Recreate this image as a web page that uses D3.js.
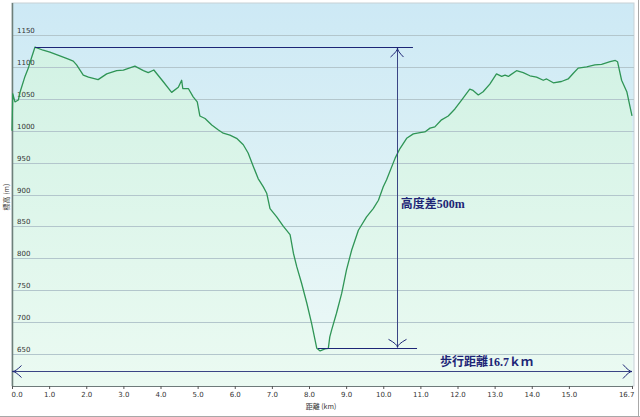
<!DOCTYPE html>
<html>
<head>
<meta charset="utf-8">
<script src="https://cdn.jsdelivr.net/npm/d3@7"></script>
<style>
  body { margin: 0; background: #fff; }
  svg { display: block; }
</style>
</head>
<body>
<div id="chart"></div>
<script>
'use strict';

// distance along the trail (km) and elevation (m)
var distances = [
  0, 0.02, 0.08, 0.17, 0.22, 0.35, 0.44, 0.53, 0.62, 0.84,
  1.02, 1.29, 1.52, 1.65, 1.74, 1.92, 2.06, 2.32, 2.55, 2.82,
  3.00, 3.31, 3.54, 3.67, 3.82, 4.07, 4.30, 4.48, 4.57, 4.60,
  4.75, 4.88, 4.99, 5.06, 5.20, 5.38, 5.56, 5.69, 5.87, 6.05,
  6.23, 6.36, 6.50, 6.63, 6.77, 6.86, 6.95, 7.13, 7.31, 7.49,
  7.51, 7.58, 7.67, 7.80, 7.94, 8.07, 8.21, 8.30, 8.43, 8.52,
  8.56, 8.61, 8.74, 8.88, 9.01, 9.15, 9.33, 9.55, 9.73, 9.87,
  10.00, 10.09, 10.32, 10.45, 10.63, 10.81, 10.99, 11.12, 11.26, 11.39,
  11.57, 11.75, 11.93, 12.11, 12.33, 12.42, 12.56, 12.69, 12.87, 13.05,
  13.19, 13.28, 13.37, 13.59, 13.77, 13.95, 14.13, 14.31, 14.40, 14.58,
  14.80, 14.98, 15.12, 15.25, 15.48, 15.70, 15.88, 16.11, 16.25, 16.31,
  16.42, 16.56, 16.70
];
var elevations = [
  1000, 1058, 1045, 1048, 1061, 1085, 1098, 1115, 1131, 1126,
  1123, 1117, 1112, 1109, 1103, 1087, 1084, 1080, 1089, 1094,
  1095, 1101, 1094, 1091, 1095, 1077, 1060, 1068, 1079, 1066,
  1066, 1053, 1045, 1023, 1019, 1009, 1001, 996, 993, 988,
  978, 965, 944, 925, 912, 902, 878, 865, 850, 837,
  831, 808, 787, 761, 730, 698, 659, 655, 658, 659,
  677, 688, 714, 745, 782, 813, 844, 865, 878, 891,
  912, 923, 957, 972, 988, 995, 997, 998, 1004, 1006,
  1017, 1023, 1034, 1048, 1065, 1063, 1056, 1061, 1073, 1089,
  1085, 1087, 1085, 1094, 1091, 1086, 1084, 1079, 1081, 1075,
  1077, 1081, 1090, 1098, 1100, 1103, 1104, 1108, 1110, 1108,
  1079, 1061, 1023
];

var xTicks = [0, 1, 2, 3, 4, 5, 6, 7, 8, 9, 10, 11, 12, 13, 14, 15, 16.7];
var yTicks = [650, 700, 750, 800, 850, 900, 950, 1000, 1050, 1100, 1150];

// annotation: peak / low reference lines and the height difference arrow
var peakLine = [0.62, 10.8, 1131];     // from km, to km, elevation
var lowLine = [8.24, 10.91, 659];
var heightArrow = [10.37, 1131, 659];  // km, top, bottom
var heightLabel = [10.47, 879, "高度差500m"];
var distArrow = [0, 16.7, 624];        // from km, to km, elevation
var distLabel = [11.53, 631, "歩行距離16.7ｋｍ"];

var svgWidth = 640, svgHeight = 417;
var plot = {left: 12, top: 3, right: 634, bottom: 386};

var x = d3.scaleLinear().domain([0, 16.7]).range([plot.left, 632]);
var y = d3.scaleLinear().domain([600, 1200]).range([plot.bottom, plot.top]);

var data = distances.map(function(d, i) { return {km: d, elev: elevations[i]}; });

var svg = d3.select("#chart").append("svg")
  .attr("width", svgWidth)
  .attr("height", svgHeight);

var defs = svg.append("defs");

var bg = defs.append("linearGradient")
  .attr("id", "bg").attr("x1", 0).attr("y1", 0).attr("x2", 0).attr("y2", 1);
bg.append("stop").attr("offset", "0%").attr("stop-color", "#cde9f5");
bg.append("stop").attr("offset", "100%").attr("stop-color", "#eefaf6");

var under = defs.append("linearGradient")
  .attr("id", "under").attr("x1", 0).attr("y1", 0).attr("x2", 0).attr("y2", 1);
under.append("stop").attr("offset", "0%").attr("stop-color", "#d2f2e4");
under.append("stop").attr("offset", "100%").attr("stop-color", "#ebfaf2");

// outer frame shadow (right / bottom)
svg.append("line")
  .attr("x1", 638.5).attr("x2", 638.5).attr("y1", 0).attr("y2", 417)
  .attr("stroke", "#a8a8a8");
svg.append("line")
  .attr("x1", 0).attr("x2", 640).attr("y1", 416.5).attr("y2", 416.5)
  .attr("stroke", "#a8a8a8");

// plot background
svg.append("rect")
  .attr("x", plot.left).attr("y", plot.top)
  .attr("width", plot.right - plot.left).attr("height", plot.bottom - plot.top)
  .attr("fill", "url(#bg)")
  .attr("stroke", "#c8d2d6");

var area = d3.area()
  .x(function(d) { return x(d.km); })
  .y0(plot.bottom)
  .y1(function(d) { return y(d.elev); });

svg.append("path")
  .datum(data)
  .attr("d", area)
  .attr("fill", "url(#under)");

// grid lines
svg.append("g")
  .selectAll("line")
  .data(yTicks)
  .enter().append("line")
  .attr("x1", plot.left).attr("x2", plot.right)
  .attr("y1", function(d) { return Math.round(y(d)) + 0.5; })
  .attr("y2", function(d) { return Math.round(y(d)) + 0.5; })
  .attr("stroke", "#b3c6cc");

// y labels sit inside the plot just above each grid line
svg.append("g")
  .selectAll("text")
  .data(yTicks)
  .enter().append("text")
  .attr("x", 17)
  .attr("y", function(d) { return Math.round(y(d)) - 2; })
  .attr("font-family", "DejaVu Sans, Verdana, sans-serif")
  .attr("font-size", 7)
  .attr("fill", "#333")
  .text(function(d) { return d; });

// x axis
var xAxis = svg.append("g")
  .attr("transform", "translate(0," + plot.bottom + ")")
  .call(d3.axisBottom(x)
    .tickValues(xTicks)
    .tickSize(3)
    .tickFormat(d3.format(".1f")));
xAxis.select(".domain").attr("stroke", "#6e7a7a");
xAxis.selectAll(".tick line").attr("stroke", "#555");
xAxis.selectAll(".tick text")
  .attr("y", 6)
  .attr("font-family", "DejaVu Sans, Verdana, sans-serif")
  .attr("font-size", 7)
  .attr("fill", "#333")
  .attr("text-anchor", function(d, i) {
    return i === 0 ? "start" : (i === xTicks.length - 1 ? "end" : "middle");
  })
  .attr("dx", function(d, i) {
    return i === 0 ? -1 : (i === xTicks.length - 1 ? 2 : 0);
  });

// y axis line
svg.append("line")
  .attr("x1", plot.left + 0.5).attr("x2", plot.left + 0.5)
  .attr("y1", plot.top).attr("y2", plot.bottom)
  .attr("stroke", "#6e7f7a")
  .attr("stroke-width", 1.5);

// elevation line
var line = d3.line()
  .x(function(d) { return x(d.km); })
  .y(function(d) { return y(d.elev); });

svg.append("path")
  .datum(data)
  .attr("d", line)
  .attr("fill", "none")
  .attr("stroke", "#2f9556")
  .attr("stroke-width", 1.3)
  .attr("stroke-linejoin", "round");

// axis titles
svg.append("text")
  .attr("transform", "translate(9,197) rotate(-90)")
  .attr("text-anchor", "middle")
  .attr("font-family", "Noto Sans CJK JP, sans-serif")
  .attr("font-size", 7)
  .attr("fill", "#333")
  .text("標高 (m)");

svg.append("text")
  .attr("x", 321).attr("y", 409)
  .attr("text-anchor", "middle")
  .attr("font-family", "Noto Sans CJK JP, sans-serif")
  .attr("font-size", 7)
  .attr("fill", "#333")
  .text("距離 (km)");

// annotations
var ink = "#1d2576";
var ann = svg.append("g")
  .attr("fill", "none")
  .attr("stroke", ink)
  .attr("stroke-width", 1);

function hline(from, to, elev) {
  var yy = Math.round(y(elev)) + 0.5;
  ann.append("line")
    .attr("x1", x(from)).attr("x2", x(to))
    .attr("y1", yy).attr("y2", yy);
}

hline(peakLine[0], peakLine[1], peakLine[2]);
hline(lowLine[0], lowLine[1], lowLine[2]);

var ax = Math.round(x(heightArrow[0])) + 0.5;
var aTop = y(heightArrow[1]) + 1, aBot = y(heightArrow[2]) - 1;
ann.append("line")
  .attr("x1", ax).attr("x2", ax).attr("y1", aTop).attr("y2", aBot)
  .attr("stroke", "#3a4585");
ann.append("path")
  .attr("d", "M" + (ax - 7) + "," + (aTop + 9) + " Q" + ax + "," + (aTop + 3) + " " + ax + "," + aTop +
    " Q" + ax + "," + (aTop + 3) + " " + (ax + 6) + "," + (aTop + 9));
ann.append("path")
  .attr("d", "M" + (ax - 9) + "," + (aBot - 8) + " Q" + ax + "," + (aBot - 3) + " " + ax + "," + aBot +
    " Q" + ax + "," + (aBot - 3) + " " + (ax + 9) + "," + (aBot - 8));

var dy = Math.round(y(distArrow[2])) + 0.5;
var dl = x(distArrow[0]) + 0.5, dr = x(distArrow[1]);
ann.append("line")
  .attr("x1", dl).attr("x2", dr).attr("y1", dy).attr("y2", dy)
  .attr("stroke", "#3a4585");
ann.append("path")
  .attr("d", "M" + (dl + 9) + "," + (dy - 6) + " Q" + (dl + 3) + "," + dy + " " + dl + "," + dy +
    " Q" + (dl + 3) + "," + dy + " " + (dl + 9) + "," + (dy + 6));
ann.append("path")
  .attr("d", "M" + (dr - 9) + "," + (dy - 7) + " Q" + (dr - 3) + "," + dy + " " + dr + "," + dy +
    " Q" + (dr - 3) + "," + dy + " " + (dr - 9) + "," + (dy + 7));

svg.append("text")
  .attr("x", x(heightLabel[0])).attr("y", y(heightLabel[1]))
  .attr("font-family", "Liberation Serif, Noto Sans CJK JP, serif")
  .attr("font-weight", "bold")
  .attr("font-size", 12)
  .attr("fill", ink)
  .text(heightLabel[2]);

svg.append("text")
  .attr("x", x(distLabel[0])).attr("y", y(distLabel[1]))
  .attr("font-family", "Liberation Serif, Noto Sans CJK JP, serif")
  .attr("font-weight", "bold")
  .attr("font-size", 12)
  .attr("fill", ink)
  .text(distLabel[2]);
</script>
</body>
</html>
